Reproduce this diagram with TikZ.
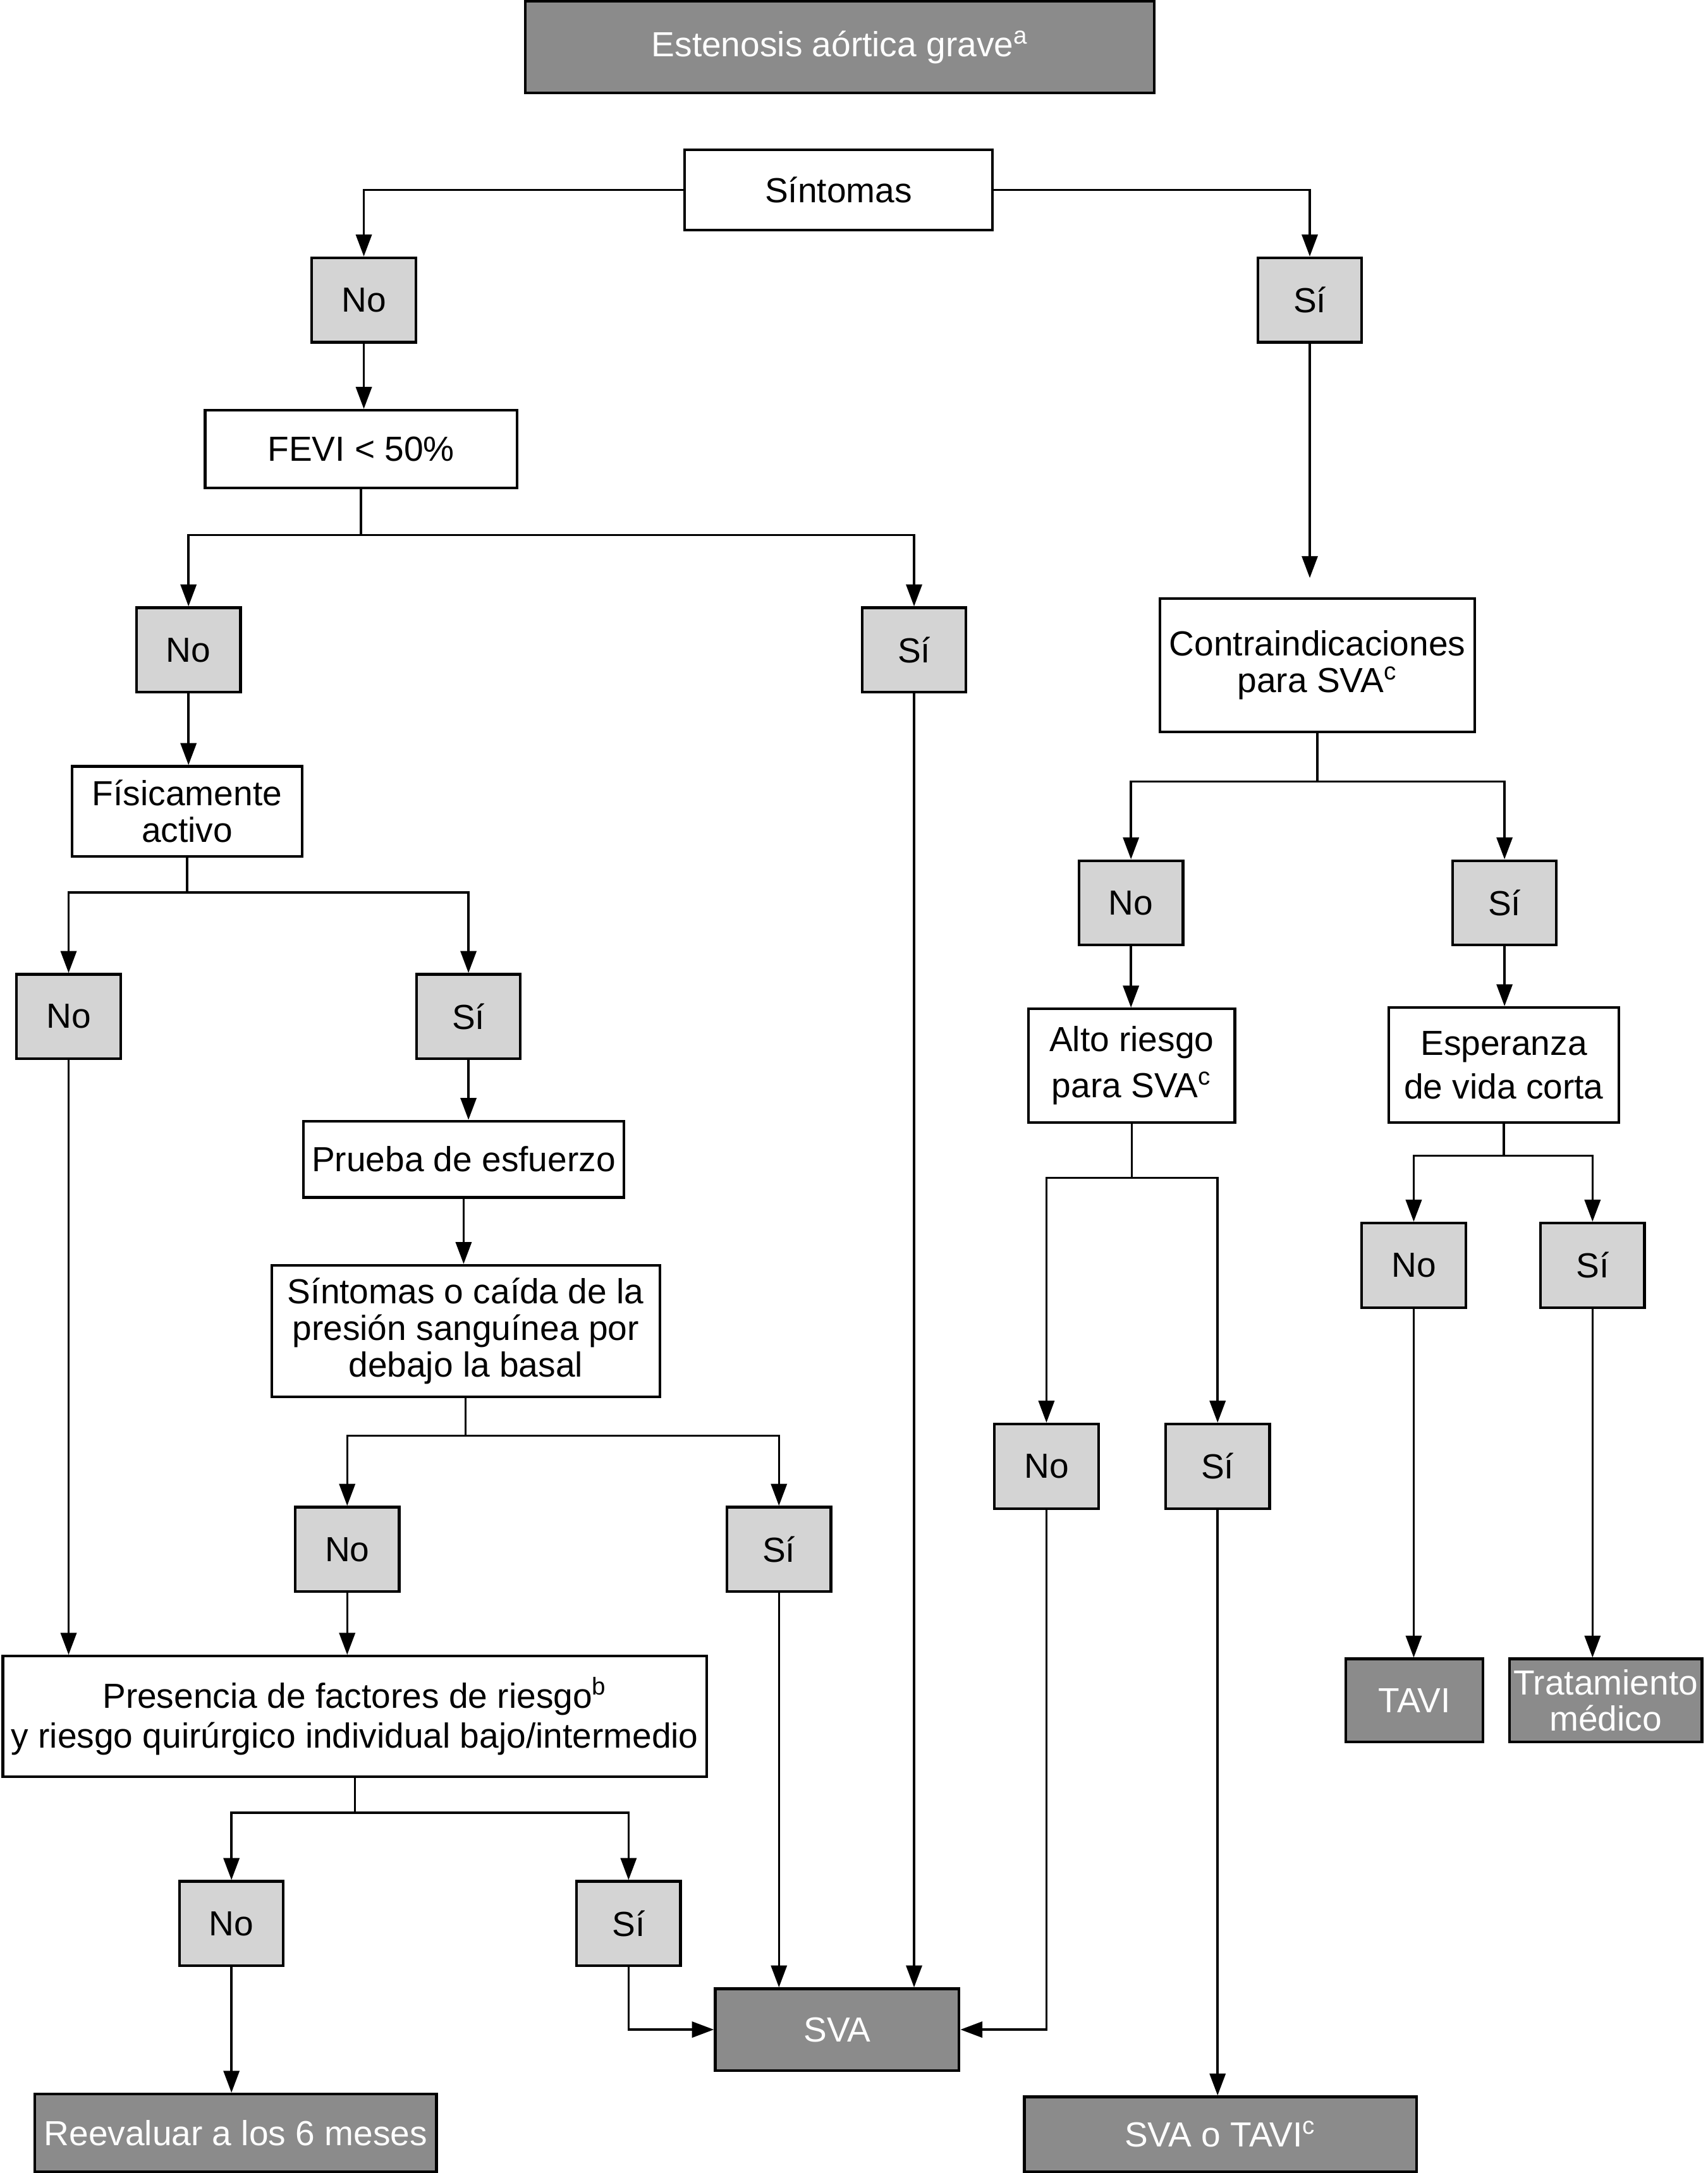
\documentclass[tikz,border=0pt]{standalone}
\usepackage{fontspec}
\setmainfont{Liberation Sans}
\usetikzlibrary{arrows.meta}
\definecolor{darkgrey}{RGB}{139,139,139}
\definecolor{lightgrey}{RGB}{212,212,212}

\begin{document}
\begin{tikzpicture}[x=0.02cm,y=-0.02cm,>={Triangle[length=9pt,width=6.5pt]},
        every node/.style={font=\fontsize{14.3}{15}\selectfont,align=center,inner sep=0pt},
        box node/.style={draw,line width=1.1pt,fill=white},
        dark node/.style={box node,fill=darkgrey,text=white},
        answer node/.style={box node,fill=lightgrey,minimum width=1.5cm,minimum height=1.22cm},
        line/.style={line width=0.9pt}]
        \useasboundingbox (0,0) rectangle (1232,1568);
        \node[dark node,minimum width=9.08cm,minimum height=1.32cm] (ea) at (606,34) {Estenosis aórtica grave\textsuperscript{a}};
        \node[box node,minimum width=4.44cm,minimum height=1.16cm] (sint) at (605,137) {Síntomas};
        \node[answer node] (no1) at (262.5,216.5) {No};
        \node[answer node] (si1) at (945,216.5) {Sí};
        \node[box node,minimum width=4.5cm,minimum height=1.12cm] (fevi) at (260.5,324) {FEVI < 50\%};
        \node[answer node] (no2) at (136,469) {No};
        \node[answer node] (si2) at (659.5,469) {Sí};
        \node[box node,minimum width=4.54cm,minimum height=1.92cm] (contra) at (950.5,480) {Contraindicaciones\\para SVA\textsuperscript{c}};
        \node[box node,minimum width=3.32cm,minimum height=1.3cm] (fis) at (135,585.5) {Físicamente\\activo};
        \node[answer node] (no3) at (816,651.5) {No};
        \node[answer node] (si3) at (1085.5,651.5) {Sí};
        \node[answer node] (no4) at (49.5,733.5) {No};
        \node[answer node] (si4) at (338,733.5) {Sí};
        \node[box node,minimum width=2.98cm,minimum height=1.64cm] (alto) at (816.5,769) {Alto riesgo\\[4pt]para SVA\textsuperscript{c}};
        \node[box node,minimum width=3.32cm,minimum height=1.66cm] (esp) at (1085,768.5) {Esperanza\\[3pt]de vida corta};
        \node[box node,minimum width=4.62cm,minimum height=1.1cm] (prueba) at (334.5,836.5) {Prueba de esfuerzo};
        \node[answer node] (no5) at (1020,913) {No};
        \node[answer node] (si5) at (1149,913) {Sí};
        \node[box node,minimum width=5.6cm,minimum height=1.9cm] (caida) at (336,960.5) {Síntomas o caída de la\\presión sanguínea por\\debajo la basal};
        \node[answer node] (no6) at (755,1058) {No};
        \node[answer node] (si6) at (878.5,1058) {Sí};
        \node[answer node] (no7) at (250.5,1118) {No};
        \node[answer node] (si7) at (562,1118) {Sí};
        \node[box node,minimum width=10.16cm,minimum height=1.74cm] (pres) at (256,1238.5) {Presencia de factores de riesgo\textsuperscript{b}\\[1.5pt]y riesgo quirúrgico individual bajo/intermedio};
        \node[dark node,minimum width=1.98cm,minimum height=1.2cm] (tavi) at (1020.5,1227) {TAVI};
        \node[dark node,minimum width=2.78cm,minimum height=1.2cm] (trat) at (1158.5,1227) {Tratamiento\\médico};
        \node[answer node] (no8) at (167,1388) {No};
        \node[answer node] (si8) at (453.5,1388) {Sí};
        \node[dark node,minimum width=3.52cm,minimum height=1.18cm] (sva) at (604,1464.5) {SVA};
        \node[dark node,minimum width=5.8cm,minimum height=1.12cm] (reev) at (170,1539) {Reevaluar a los 6 meses};
        \node[dark node,minimum width=5.66cm,minimum height=1.08cm] (svatavi) at (880.5,1540) {SVA o TAVI\textsuperscript{c}};
        \draw[->,line] (sint) -| (no1);
        \draw[->,line] (sint) -| (si1);
        \draw[->,line] (si1) -- ([yshift=0.28cm]si1 |- contra.north);
        \foreach \q/\d/\n/\s in {fevi/33/no2/si2,fis/25/no4/si4,contra/35/no3/si3,alto/39/no6/si6,esp/23/no5/si5,caida/27/no7/si7,pres/25/no8/si8}{
            \draw[line] (\q.south) -- ++(0,\d) coordinate (fork);
            \draw[->,line] (fork) -| (\n);
            \draw[->,line] (fork) -| (\s);
        }
        \foreach \a/\b in {no1/fevi,no2/fis,si4/prueba,prueba/caida,no3/alto,si3/esp,no4/pres,no7/pres,si7/sva,si2/sva,si6/svatavi,no5/tavi,si5/trat,no8/reev}
            \draw[->,line] (\a) -- (\a |- \b.north);
        \draw[->,line] (si8) |- (sva);
        \draw[->,line] (no6) |- (sva);
\end{tikzpicture}
\end{document}
